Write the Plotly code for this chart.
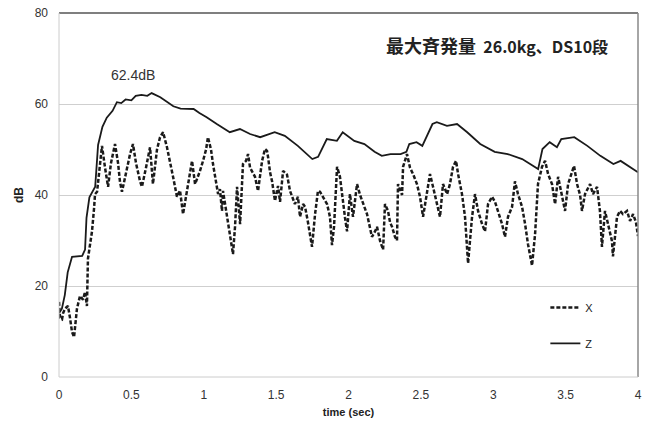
import plotly.graph_objects as go

# ---- data ----
z_time = [0.0, 0.02, 0.04, 0.06, 0.09, 0.16, 0.18, 0.19, 0.21, 0.25, 0.27, 0.30, 0.33, 0.37, 0.40,
          0.43, 0.46, 0.50, 0.53, 0.57, 0.61, 0.64, 0.70, 0.75, 0.79, 0.84, 0.88, 0.93, 0.97, 1.02,
          1.09, 1.18, 1.25, 1.32, 1.39, 1.46, 1.49, 1.56, 1.65, 1.75, 1.79, 1.85, 1.92, 1.96, 2.04,
          2.11, 2.18, 2.23, 2.29, 2.36, 2.40, 2.42, 2.47, 2.51, 2.55, 2.58, 2.61, 2.68, 2.75, 2.82,
          2.91, 3.01, 3.10, 3.20, 3.31, 3.34, 3.39, 3.44, 3.47, 3.56, 3.65, 3.74, 3.83, 3.88, 4.00]
z_db = [14, 15, 18, 23, 26.4, 26.6, 28, 35, 39.5, 41.8, 51, 55, 57, 58.5, 60.4,
        60.2, 61, 60.8, 61.8, 62, 61.8, 62.4, 61.5, 60.3, 59.5, 59, 59, 58.9, 58, 57.1,
        55.6, 53.8, 54.5, 53.4, 52.7, 53.4, 53.8, 53, 50.8, 47.9, 48.4, 52.3, 51.9, 53.8, 51.9,
        51.2, 49.5, 48.6, 49, 49, 49.5, 51.2, 51.6, 50.8, 53.4, 55.6, 56, 55.2, 55.6, 53.8,
        51.2, 49.5, 49, 47.9, 45.7, 50.1, 51.6, 50.5, 52.3, 52.7, 50.8, 48.6, 46.8, 47.5, 45]

x_time = [0.0, 0.007, 0.021, 0.028, 0.041, 0.062, 0.076, 0.090, 0.104, 0.124, 0.145, 0.166, 0.180,
          0.193, 0.200, 0.228, 0.242, 0.249, 0.263, 0.283, 0.297, 0.318, 0.332, 0.339, 0.359, 0.387,
          0.408, 0.421, 0.435, 0.456, 0.470, 0.491, 0.511, 0.532, 0.560, 0.573, 0.601, 0.629, 0.649,
          0.677, 0.698, 0.719, 0.746, 0.767, 0.788, 0.815, 0.836, 0.857, 0.884, 0.905, 0.919, 0.940,
          0.960, 0.974, 0.995, 1.016, 1.029, 1.050, 1.064, 1.085, 1.099, 1.112, 1.126, 1.133, 1.147,
          1.161, 1.181, 1.195, 1.202, 1.216, 1.230, 1.251, 1.271, 1.292, 1.306, 1.320, 1.333, 1.354,
          1.375, 1.389, 1.403, 1.423, 1.437, 1.444, 1.458, 1.472, 1.492, 1.513, 1.527, 1.548, 1.575,
          1.596, 1.617, 1.630, 1.651, 1.665, 1.686, 1.700, 1.720, 1.734, 1.748, 1.769, 1.789, 1.803,
          1.824, 1.852, 1.872, 1.886, 1.900, 1.921, 1.941, 1.962, 1.976, 1.990, 2.010, 2.031, 2.059,
          2.080, 2.093, 2.114, 2.128, 2.149, 2.162, 2.183, 2.197, 2.218, 2.239, 2.252, 2.273, 2.287,
          2.301, 2.321, 2.335, 2.342, 2.370, 2.377, 2.404, 2.425, 2.446, 2.473, 2.494, 2.515, 2.542,
          2.563, 2.584, 2.612, 2.632, 2.653, 2.681, 2.701, 2.722, 2.743, 2.757, 2.784, 2.805, 2.826,
          2.853, 2.874, 2.895, 2.923, 2.943, 2.964, 2.992, 3.012, 3.033, 3.061, 3.081, 3.102, 3.130,
          3.150, 3.171, 3.199, 3.220, 3.240, 3.268, 3.289, 3.309, 3.337, 3.358, 3.379, 3.406, 3.427,
          3.448, 3.475, 3.496, 3.517, 3.544, 3.558, 3.579, 3.600, 3.613, 3.634, 3.669, 3.689, 3.717,
          3.737, 3.751, 3.772, 3.793, 3.820, 3.827, 3.855, 3.876, 3.896, 3.924, 3.945, 3.966, 3.986,
          4.0]
x_db = [16.5, 13, 12.7, 14, 15, 15.6, 13, 9.9, 8.8, 15, 17.8, 17, 18.7,
        15.6, 26, 32, 37, 40.2, 40.7, 46.8, 50.8, 46, 43, 41.8, 47, 51.2,
        47, 43, 40.7, 44, 46.2, 49, 51.2, 47, 43, 41.8, 46, 50.5, 42.4,
        50, 52.7, 53.8, 50.5, 47.5, 44, 39.6, 41, 35.8, 40.9, 44, 47.5, 42.4,
        44, 45.3, 47.5, 50, 52.7, 50, 46.8, 43, 40.2, 41.3, 36.5, 40.9, 38,
        35.2, 31, 28.6, 27, 33, 41.8, 33.6, 46.8, 47.5, 49, 46, 45.3, 44,
        40.9, 44, 47.5, 50.1, 49.7, 48.4, 45, 43, 38.7, 42, 38.5, 45.3, 44.5,
        40.9, 39, 38, 39.6, 35.2, 38, 37.4, 34, 30.8, 28.6, 35.8, 40.9, 40.7,
        39.6, 38, 35.2, 29, 33, 46.2, 44, 38, 35, 32, 40.2, 35.2, 42.4,
        40, 38.7, 37, 35.8, 33, 30.8, 32, 33, 29.9, 28, 38, 36.5, 34,
        33, 30.8, 30, 42.4, 40, 46.2, 49, 46, 44.6, 42.4, 39.6, 35.2, 40.9,
        44.6, 41.8, 38, 35.2, 42.4, 40.2, 42.4, 46.2, 47.5, 44.6, 40.2, 35.2, 25,
        35, 40.2, 36.5, 33.6, 32, 38, 39.6, 38.5, 36.5, 33.6, 30.8, 35.2, 37.4,
        43, 40.2, 37.4, 33.6, 29.2, 24.5, 31.4, 42.4, 46.2, 47.5, 44.6, 42.4, 38,
        44, 40.2, 36.5, 42.4, 45.3, 46.4, 42.4, 40, 36.5, 40.2, 42.4, 40.2, 41.8,
        36.5, 28.6, 36.5, 33.6, 29.9, 26.5, 35.2, 36.5, 35.8, 36.5, 34.3, 35.8, 34,
        31]

x_ticks = [0, 0.5, 1, 1.5, 2, 2.5, 3, 3.5, 4]
x_ticklabels = ["0", "0.5", "1", "1.5", "2", "2.5", "3", "3.5", "4"]
y_ticks = [0, 20, 40, 60, 80]

title_jp = "最大斉発量"
title_rest = "26.0kg、DS10段"
peak_text = "62.4dB"

# ---- figure ----
fig = go.Figure()
fig.add_trace(go.Scatter(x=x_time, y=x_db, mode="lines", name="X", legendgroup="X",
                         line=dict(color="#1a1a1a", width=2.5, dash="4px,2px")))
fig.add_trace(go.Scatter(x=z_time, y=z_db, mode="lines", name="Z", legendgroup="Z",
                         line=dict(color="#1a1a1a", width=1.8)))

tick_font = dict(family="Liberation Sans, Arial, sans-serif", size=12, color="#333333")

fig.update_layout(
    width=654, height=423,
    margin=dict(l=59, r=16, t=13, b=46),
    paper_bgcolor="white", plot_bgcolor="white",
    showlegend=True,
    legend=dict(x=0.84, y=0.231, xanchor="left", yanchor="top",
                bgcolor="rgba(0,0,0,0)", tracegroupgap=17, itemwidth=30,
                font=dict(family="Liberation Sans, Arial, sans-serif", size=11, color="#222222")),
    xaxis=dict(range=[0, 4], tickvals=x_ticks, ticktext=x_ticklabels, tickfont=tick_font,
               showgrid=False, zeroline=False, showline=False, ticks="", automargin=False,
               ticklabelstandoff=9,
               title=dict(text="<b>time (sec)</b>", standoff=7,
                          font=dict(family="Liberation Sans, Arial, sans-serif", size=11, color="#222222"))),
    yaxis=dict(range=[0, 80], tickvals=y_ticks, tickfont=tick_font, automargin=False,
               showgrid=True, gridcolor="#cfcfcf", gridwidth=1, ticklabeloverflow="allow",
               zeroline=False, showline=False, ticks="", ticklabelstandoff=10,
               title=dict(text="<b>dB</b>", standoff=8,
                          font=dict(family="Liberation Sans, Arial, sans-serif", size=12, color="#222222"))),
    annotations=[
        dict(x=0.51, y=66.4, xref="x", yref="y", text=peak_text, showarrow=False,
             font=dict(family="Liberation Sans, Arial, sans-serif", size=14, color="#333333")),
        dict(x=0.952, y=0.912, xref="paper", yref="paper", xanchor="right", yanchor="middle",
             text="<b><span style='font-size:18px'>" + title_jp + "</span>  " + title_rest + "</b>",
             showarrow=False,
             font=dict(family="Noto Sans CJK JP, sans-serif", size=16, color="#222222")),
    ],
    shapes=[
        dict(type="line", xref="paper", yref="paper", x0=0, x1=1, y0=1, y1=1,
             line=dict(color="#555555", width=1.5)),
        dict(type="line", xref="paper", yref="paper", x0=1, x1=1, y0=0, y1=1,
             line=dict(color="#888888", width=1.5)),
        dict(type="line", xref="paper", yref="paper", x0=0, x1=0, y0=0, y1=1,
             line=dict(color="#cccccc", width=1)),
        dict(type="line", xref="paper", yref="paper", x0=0, x1=1, y0=0, y1=0,
             line=dict(color="#cccccc", width=1)),
    ],
)

# remove the default 8px page margin so the figure fills the window exactly
fig.write_html("out.html", config={"displayModeBar": False},
               post_script="document.body.style.margin='0';")
